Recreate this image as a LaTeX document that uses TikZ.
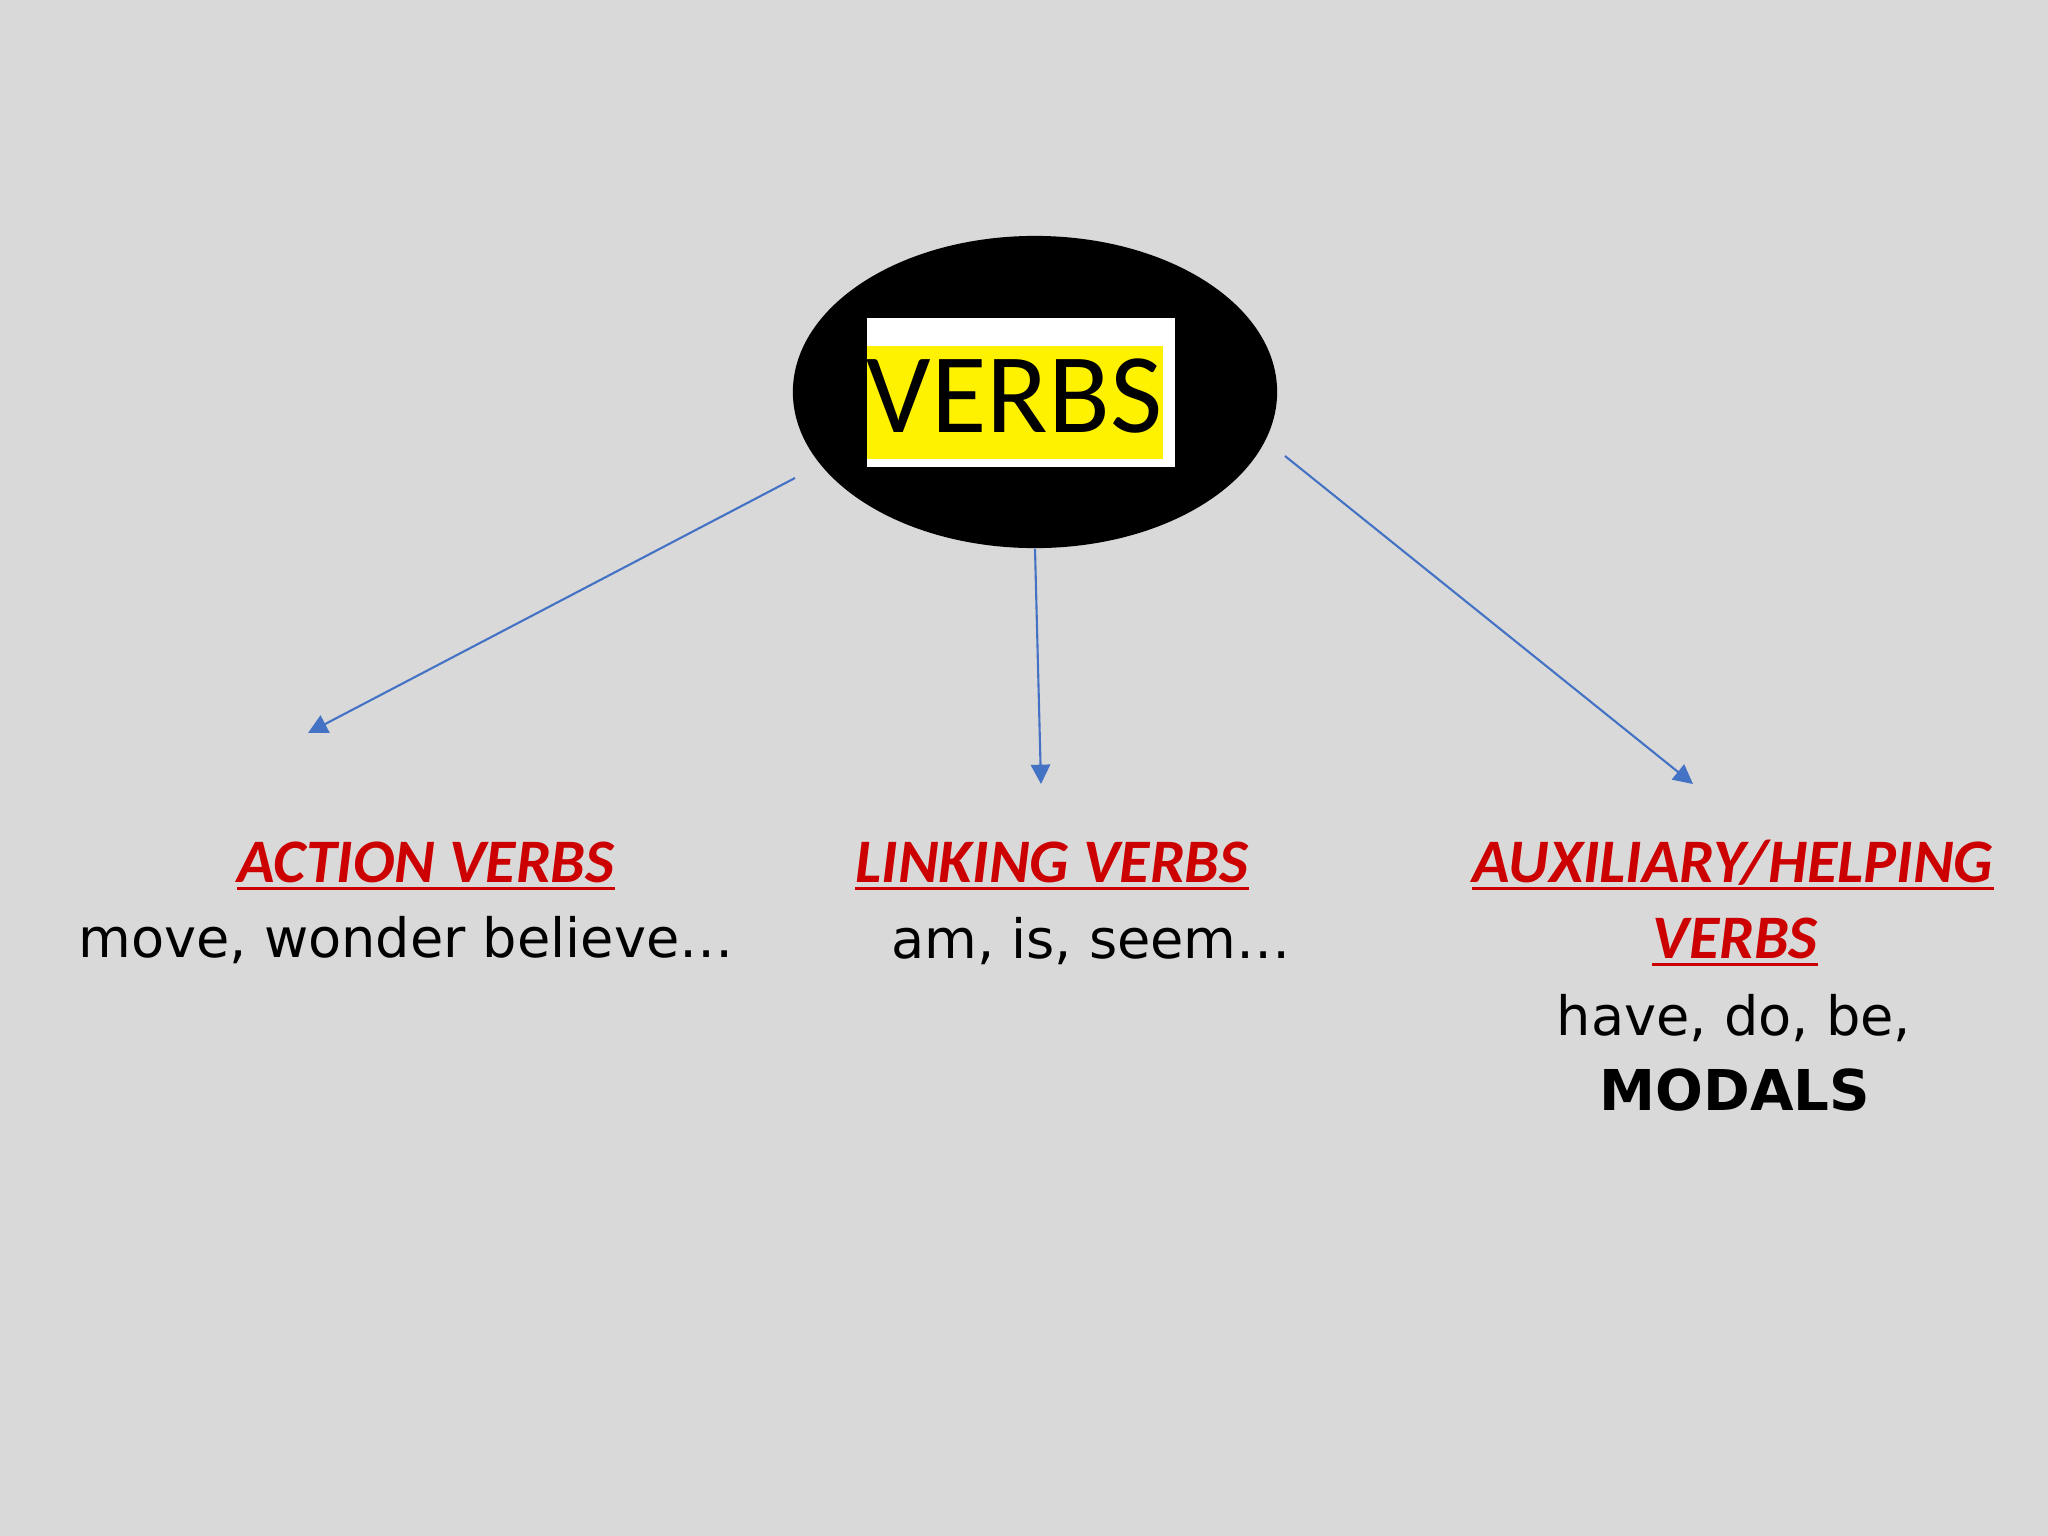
\documentclass[tikz,border=0pt]{standalone}
\usepackage{fontspec}
\setmainfont{Carlito}
\newfontfamily\handfont{DejaVu Sans}
\usetikzlibrary{shapes.geometric, arrows.meta, calc, positioning}
\definecolor{slidegray}{HTML}{D9D9D9}
\definecolor{headred}{HTML}{CC0000}
\definecolor{arrowblue}{HTML}{4472C4}
\tikzstyle{title} = [inner sep=0pt, font=\fontsize{32.3}{40}\selectfont]
\tikzstyle{head} = [inner sep=0pt, anchor=base, text=headred, font=\fontsize{17.6}{21}\selectfont\bfseries\itshape]
\tikzstyle{example} = [inner sep=0pt, anchor=base, font=\handfont\fontsize{15.4}{18}\selectfont]
\tikzstyle{uline} = [headred, line width=1pt]
\tikzstyle{arrow} = [arrowblue, line width=0.6pt, -{Triangle[length=5.5pt,width=5.5pt]}]

\begin{document}
\begin{tikzpicture}[x=0.01cm, y=-0.01cm]
	\fill[slidegray] (0,0) rectangle (2048,1536);
	\useasboundingbox (0,0) rectangle (2048,1536);
	\node (Verbs) [ellipse, fill=black, minimum width=4.84cm, minimum height=3.12cm] at (1035,392) {};
	\node (VerbsBox) [rectangle, fill=white, minimum width=3.08cm, minimum height=1.49cm, inner sep=0pt] at (1021,392.5) {};
	\node (VerbsMark) [rectangle, fill=yellow, minimum width=2.96cm, minimum height=1.13cm, inner sep=0pt] at (1015,402.5) {};
	\node (VerbsText) [title, anchor=base west] at (866,432) {VERBS};
	\node (Action) [head] at (426,882) {ACTION VERBS};
	\node (ActionEx) [example] at (406,957) {move, wonder believe…};
	\node (Linking) [head] at (1052,882) {LINKING VERBS};
	\node (LinkingEx) [example] at (1091,958) {am, is, seem…};
	\node (Aux) [head] at (1733,882) {AUXILIARY/HELPING};
	\node (AuxVerbs) [head] at (1735,958) {VERBS};
	\node (AuxEx) [example] at (1734,1035) {have, do, be,};
	\node (Modals) [example, font=\handfont\fontsize{16}{19}\selectfont\bfseries] at (1735,1110) {MODALS};
	\foreach \n in {Action, Linking, Aux, AuxVerbs}
		\draw[uline] ([yshift=-1.8pt]\n.base west) -- ([yshift=-1.8pt]\n.base east);
	\coordinate (ActionFrom) at (795,478);
	\coordinate (AuxFrom) at (1285,456);
	\coordinate (ActionTip) at (308,733);
	\coordinate (LinkingTip) at (1041,784);
	\coordinate (AuxTip) at (1693,784);
	\draw [arrow] (ActionFrom) -- (ActionTip);
	\draw [arrow] (Verbs.south) -- (LinkingTip);
	\draw [arrow] (AuxFrom) -- (AuxTip);
\end{tikzpicture}
\end{document}
